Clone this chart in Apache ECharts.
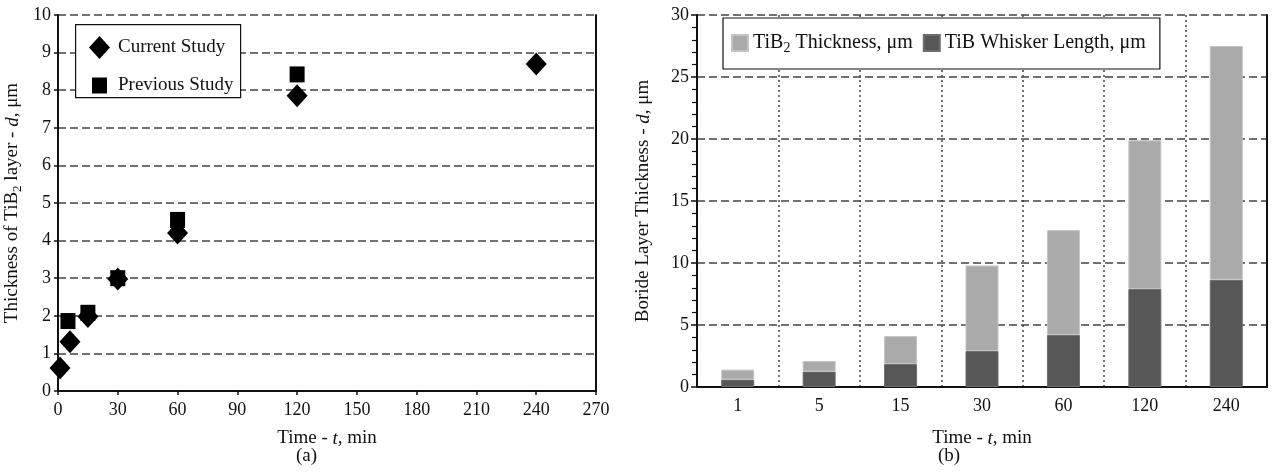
<!DOCTYPE html>
<html>
<head>
<meta charset="utf-8">
<script src="https://cdn.jsdelivr.net/npm/echarts@6/dist/echarts.min.js"></script>
<style>
  html, body {margin: 0; padding: 0; background: #fff;}
  #chart {width: 1273px; height: 473px;}
</style>
</head>
<body>
<div id="chart"></div>
<script>
// (a) scatter: time in min, thickness in um
const currentTime = [1, 6, 15, 30, 60, 120, 240];
const currentThick = [0.61, 1.31, 1.98, 2.98, 4.2, 7.85, 8.7];
const previousTime = [5, 15, 30, 60, 120];
const previousThick = [1.86, 2.08, 3.0, 4.55, 8.42];

// (b) stacked bars
const barCats = ['1', '5', '15', '30', '60', '120', '240'];
const whiskerLen = [0.6, 1.25, 1.85, 2.9, 4.2, 7.9, 8.65];
const tib2Part = [0.8, 0.85, 2.25, 6.9, 8.45, 12.0, 18.85];

const font = 'Liberation Serif';
const black = '#111';
const grey = '#444';
const makeRich = (size, sub) => ({
  n: {fontFamily: font, fontSize: size, color: black, lineHeight: size + 4},
  i: {fontFamily: font, fontSize: size, color: black, fontStyle: 'italic', lineHeight: size + 4},
  s: {fontFamily: font, fontSize: sub, color: black, verticalAlign: 'bottom', lineHeight: size + 4, padding: [9, 0, 0, 0]}
});
const nameRich = makeRich(19, 13);
const legendRich = makeRich(20, 14);
const labelStyle = {fontFamily: font, fontSize: 18, color: black};

const pair = (xs, ys) => xs.map((x, k) => [x, ys[k]]);

const chart = echarts.init(document.getElementById('chart'));
chart.setOption({
  animation: false,
  grid: [
    {left: 58, right: 677, top: 15, bottom: 82},
    {left: 697, right: 6, top: 15, bottom: 86}
  ],
  legend: [
    {
      data: ['Current Study'], left: 84, top: 31, itemWidth: 21, itemHeight: 23,
      textStyle: {fontFamily: font, fontSize: 19, color: black, padding: [0, 0, 0, 3]}
    },
    {
      data: ['Previous Study'], left: 87, top: 71, itemWidth: 15, itemHeight: 16,
      textStyle: {fontFamily: font, fontSize: 19, color: black, padding: [0, 0, 0, 6]}
    },
    {
      data: ['TiB2 Thickness, μm', 'TiB Whisker Length, μm'],
      left: 723, top: 18, itemWidth: 16, itemHeight: 16, itemGap: 10,
      padding: [14, 14, 14, 8], borderColor: black, borderWidth: 1.2,
      icon: 'rect', backgroundColor: '#fff',
      formatter: name => name.startsWith('TiB2')
        ? '{n|TiB}{s|2}{n| Thickness, μm}' : '{n|TiB Whisker Length, μm}',
      textStyle: {rich: legendRich}
    }
  ],
  xAxis: [
    {
      gridIndex: 0, type: 'value', min: 0, max: 270, interval: 30,
      name: '{n|Time - }{i|t}{n|, min}', nameLocation: 'middle', nameGap: 36,
      nameTextStyle: {rich: nameRich},
      axisLine: {lineStyle: {color: black, width: 2}},
      axisTick: {length: 4, lineStyle: {color: black, width: 1.5}},
      axisLabel: Object.assign({margin: 10}, labelStyle),
      splitLine: {show: false}
    },
    {
      gridIndex: 1, type: 'category', data: barCats,
      name: '{n|Time - }{i|t}{n|, min}', nameLocation: 'middle', nameGap: 40,
      nameTextStyle: {rich: nameRich},
      axisLine: {lineStyle: {color: black, width: 2}},
      axisTick: {length: 6, lineStyle: {color: black, width: 1.5}},
      axisLabel: Object.assign({margin: 10}, labelStyle),
      splitLine: {show: true, interval: 0, lineStyle: {color: grey, width: 1.5, type: [2, 3]}}
    }
  ],
  yAxis: [
    {
      gridIndex: 0, type: 'value', min: 0, max: 10, interval: 1,
      name: '{n|Thickness of TiB}{s|2}{n| layer - }{i|d}{n|, μm}',
      nameLocation: 'middle', nameGap: 34, nameTextStyle: {rich: nameRich},
      axisLine: {show: true, lineStyle: {color: black, width: 2}},
      axisTick: {show: true, length: 4, lineStyle: {color: black, width: 1.5}},
      axisLabel: Object.assign({margin: 7}, labelStyle),
      splitLine: {lineStyle: {color: grey, width: 1.5, type: [8, 4]}}
    },
    {
      gridIndex: 0, type: 'value', min: 0, max: 10, position: 'right',
      axisLine: {show: true, lineStyle: {color: black, width: 2}},
      axisTick: {show: false}, axisLabel: {show: false}, splitLine: {show: false}
    },
    {
      gridIndex: 1, type: 'value', min: 0, max: 30, interval: 5,
      name: '{n|Boride Layer Thickness - }{i|d}{n|, μm}',
      nameLocation: 'middle', nameGap: 42, nameTextStyle: {rich: nameRich},
      axisLine: {show: true, lineStyle: {color: black, width: 2}},
      axisTick: {show: true, length: 6, lineStyle: {color: black, width: 1.5}},
      minorTick: {show: true, splitNumber: 5, length: 5, lineStyle: {color: black, width: 1.2}},
      axisLabel: Object.assign({margin: 8}, labelStyle),
      splitLine: {lineStyle: {color: grey, width: 1.5, type: [8, 4]}}
    },
    {
      gridIndex: 1, type: 'value', min: 0, max: 30, position: 'right',
      axisLine: {show: true, lineStyle: {color: black, width: 2}},
      axisTick: {show: false}, axisLabel: {show: false}, splitLine: {show: false}
    }
  ],
  series: [
    {
      name: 'Previous Study', type: 'scatter', xAxisIndex: 0, yAxisIndex: 0,
      symbol: 'rect', symbolSize: [15, 16], itemStyle: {color: '#000', opacity: 1},
      data: pair(previousTime, previousThick)
    },
    {
      name: 'Current Study', type: 'scatter', xAxisIndex: 0, yAxisIndex: 0,
      symbol: 'diamond', symbolSize: [21, 23], itemStyle: {color: '#000', opacity: 1},
      data: pair(currentTime, currentThick)
    },
    {
      name: 'TiB Whisker Length, μm', type: 'bar', xAxisIndex: 1, yAxisIndex: 2,
      stack: 'b', barWidth: 33,
      itemStyle: {color: '#575757', borderColor: '#6c6c6c', borderWidth: 1},
      data: whiskerLen
    },
    {
      name: 'TiB2 Thickness, μm', type: 'bar', xAxisIndex: 1, yAxisIndex: 2,
      stack: 'b', barWidth: 33,
      itemStyle: {color: '#aaaaaa', borderColor: '#c4c4c4', borderWidth: 1},
      data: tib2Part
    }
  ],
  graphic: [
    {type: 'rect', left: 75, top: 24, shape: {width: 165, height: 73}, z: 3,
     style: {fill: '#fff', stroke: black, lineWidth: 1.2}},
    {type: 'text', left: 296, top: 447, style: {text: '(a)', font: '19px "Liberation Serif"', fill: black}},
    {type: 'text', left: 938, top: 447, style: {text: '(b)', font: '19px "Liberation Serif"', fill: black}}
  ]
});
</script>
</body>
</html>
